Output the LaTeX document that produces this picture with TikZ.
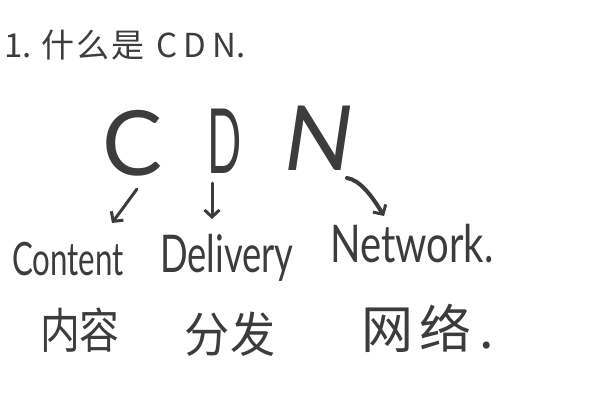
\documentclass[tikz,border=0pt]{standalone}
\usepackage{fontspec}
\setmainfont{Lato}
\newfontfamily\cjk{Noto Sans CJK SC}
\usetikzlibrary{arrows.meta}
\definecolor{ink}{HTML}{3C3C3C}
\tikzset{
  big/.style={text=ink, inner sep=0pt, font=\fontsize{90}{90}\selectfont},
  word/.style={text=ink, inner sep=0pt, anchor=base west},
  hanzi/.style={text=ink, inner sep=0pt, font=\cjk\fontsize{48}{48}\selectfont},
  arr/.style={draw=ink, line width=3pt, line cap=round, -{Straight Barb[length=7pt,width=15pt,line width=3pt]}}
}
\begin{document}
\begin{tikzpicture}[x=1pt,y=-1pt]
\useasboundingbox[fill=white] (0,0) rectangle (600,400);
% title
\node[text=ink, inner sep=0pt, anchor=west, font=\cjk\fontsize{33}{33}\selectfont] (title) at (4,45) {1.\hspace{10pt}什\hspace{2pt}么\hspace{2pt}是\hspace{12pt}C\hspace{6pt}D\hspace{6pt}N.};
% big letters
\node[big] (C) at (133,143) {C};
\node[big, xscale=0.5] (D) at (225,141) {D};
\node[big, xslant=0.15] (N) at (320,138) {N};
% words
\node[word, font=\fontsize{46}{46}\selectfont, xscale=0.68] (content) at (12,275) {Content};
\node[word, font=\fontsize{52}{52}\selectfont, xscale=0.70] (delivery) at (160,272) {Delivery};
\node[word, font=\fontsize{52}{52}\selectfont, xscale=0.77] (network) at (330,262) {Network.};
% chinese
\node[hanzi, xscale=0.83] (nr) at (80,330) {内容};
\node[hanzi, xscale=0.94] (ff) at (230,334) {分发};
\node[hanzi, font=\cjk\fontsize{52}{52}\selectfont] (wl) at (428,328) {网\hspace{6pt}络\hspace{8pt}.};
% arrow end points
\coordinate (c1) at (137,189);
\coordinate (c2) at (112,223);
\coordinate (d1) at (212,183);
\coordinate (d2) at (212,219);
\coordinate (n1) at (347,178);
\coordinate (n2) at (384,216);
\draw[arr] (c1) -- (c2);
\draw[arr] (d1) -- (d2);
\draw[arr, line width=4pt] (n1) .. controls (360,180) and (372,196) .. (n2);
\end{tikzpicture}
\end{document}
